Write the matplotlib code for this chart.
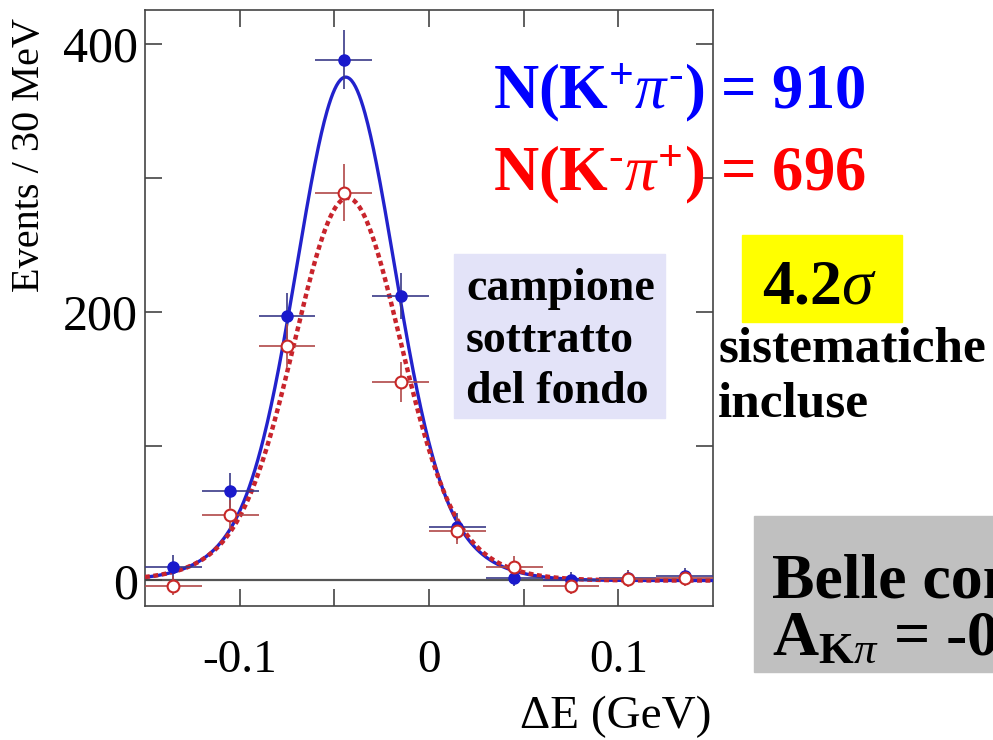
import numpy as np
import matplotlib
matplotlib.use("Agg")
import matplotlib.pyplot as plt
from matplotlib.patches import Rectangle

plt.rcParams['font.family'] = ['Liberation Serif', 'DejaVu Serif']
plt.rcParams['mathtext.fontset'] = 'custom'
plt.rcParams['mathtext.rm'] = 'Liberation Serif'
plt.rcParams['mathtext.it'] = 'Liberation Serif:italic'
plt.rcParams['mathtext.bf'] = 'Liberation Serif:bold'

# Delta E bin centres (GeV), 30 MeV bins
de_bins = [-0.135, -0.105, -0.075, -0.045, -0.015, 0.015, 0.045, 0.075, 0.105, 0.135]
bin_half = 0.015

# background-subtracted yields, K+ pi-
n_kplus = [10, 67, 197, 388, 212, 40, 2, 0, 2, 3]
err_kplus = [9, 13, 17, 22, 17, 10, 6, 6, 6, 6]

# background-subtracted yields, K- pi+
n_kminus = [-4, 49, 175, 289, 148, 37, 10, -4, 1, 2]
err_kminus = [7, 11, 16, 21, 15, 10, 8, 6, 6, 6]

# double gaussian fit: core amplitude, mean, core sigma, tail amplitude, tail sigma
fit_kplus = [295, -0.044, 0.0245, 80, 0.040]
fit_kminus = [220, -0.043, 0.0265, 65, 0.042]

yield_kplus = 910
yield_kminus = 696
significance = 4.2


def model(x, p):
    a1, mu, s1, a2, s2 = p
    return a1 * np.exp(-0.5 * ((x - mu) / s1) ** 2) + a2 * np.exp(-0.5 * ((x - mu) / s2) ** 2)


W, H = 993, 740
fig = plt.figure(figsize=(W / 100, H / 100), dpi=100)
ax = fig.add_axes([145 / W, 1 - 606 / H, 568 / W, 596 / H])
ax.patch.set_alpha(0)

xs = np.linspace(-0.15, 0.15, 600)
ax.axhline(0, color='#555555', lw=1.6, zorder=1)
ax.plot(xs, model(xs, fit_kplus), color='#2222cc', lw=2.4, zorder=3)
ax.plot(xs, model(xs, fit_kminus), color='#c8242c', lw=3.2,
        linestyle=(0, (1.1, 0.8)), zorder=4)

ax.errorbar(de_bins, n_kplus, xerr=bin_half, yerr=err_kplus, fmt='o',
            color='#1a1acc', ecolor='#3a3a88', elinewidth=1.2, capsize=0,
            markersize=8, zorder=5)
ax.errorbar(de_bins, n_kminus, xerr=bin_half, yerr=err_kminus, fmt='o',
            mfc='white', mec='#c82828', mew=1.5, ecolor='#b04848',
            elinewidth=1.2, capsize=0, markersize=8.5, zorder=5)

ax.set_xlim(-0.15, 0.15)
ax.set_ylim(-19, 425)
ax.set_xticks([-0.1, 0, 0.1])
ax.set_xticklabels(['-0.1', '0', '0.1'])
ax.set_xticks([-0.05, 0.05], minor=True)
ax.set_yticks([0, 200, 400])
ax.set_yticks([100, 300], minor=True)
ax.tick_params(which='both', direction='in', top=True, right=True,
               length=12, width=1.2, color='#444444')
ax.tick_params(axis='x', which='major', labelsize=34, pad=24)
ax.tick_params(axis='y', which='major', labelsize=36, pad=5)
for s in ax.spines.values():
    s.set_color('#444444')
    s.set_linewidth(1.2)

fig.text(30 / W, 1 - 155 / H, 'Events / 30 MeV', rotation=90,
         ha='center', va='center', fontsize=29)
fig.text(712 / W, 1 - 728 / H, 'ΔE (GeV)', ha='right', va='baseline', fontsize=34)

# yields
fig.text(493 / W, 1 - 108 / H,
         r'N(K$^{\mathbf{+}}\pi^{\mathbf{\text{-}}}$) = %d' % yield_kplus,
         color='#0000ff', fontsize=45, fontweight='bold', va='baseline')
fig.text(493 / W, 1 - 190 / H,
         r'N(K$^{\mathbf{\text{-}}}\pi^{\mathbf{+}}$) = %d' % yield_kminus,
         color='#ff0000', fontsize=45, fontweight='bold', va='baseline')

# boxes
fig.add_artist(Rectangle((454 / W, 1 - 418 / H), 211 / W, 164 / H,
                         transform=fig.transFigure, color='#e3e3f8', zorder=0.5))
fig.text(466 / W, 1 - 268 / H, 'campione\nsottratto\ndel fondo', fontsize=33,
         fontweight='bold', va='top', linespacing=1.3, zorder=2)

fig.add_artist(Rectangle((742 / W, 1 - 322 / H), 160 / W, 87 / H,
                         transform=fig.transFigure, color='#ffff00', zorder=0.5))
fig.text(762 / W, 1 - 304 / H, r'%.1f$\sigma$' % significance, fontsize=46,
         fontweight='bold', va='baseline', zorder=2)
fig.text(718 / W, 1 - 327 / H, 'sistematiche\nincluse', fontsize=37,
         fontweight='bold', va='top', linespacing=1.25, zorder=2)

fig.add_artist(Rectangle((754 / W, 1 - 672 / H), 260 / W, 156 / H,
                         transform=fig.transFigure, color='#c0c0c0', zorder=0.5))
fig.text(772 / W, 1 - 598 / H, 'Belle conferma', fontsize=46,
         fontweight='bold', va='baseline', zorder=2)
fig.text(772 / W, 1 - 655 / H, r'A$_{\mathbf{K}\pi}$ = -0.101', fontsize=46,
         fontweight='bold', va='baseline', zorder=2)

fig.savefig('out.png', dpi=100)
